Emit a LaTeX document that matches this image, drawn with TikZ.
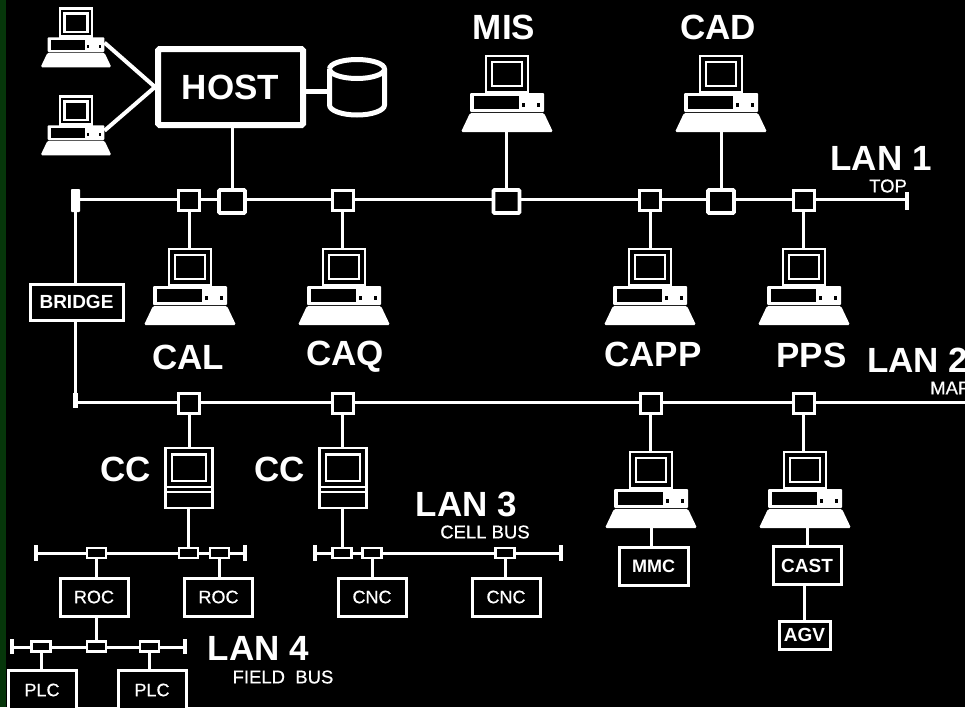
\documentclass[tikz,border=0pt]{standalone}
\usepackage{fontspec}
\setmainfont{Liberation Sans}
\newfontfamily\semib[FakeBold=0.6]{Liberation Sans}
\definecolor{stripgreen}{RGB}{6,54,10}
\begin{document}
\begin{tikzpicture}[x=1pt,y=-1pt,line join=miter,
  wire/.style={draw=white,line width=3pt},
  endtick/.style={draw=white,line width=3.4pt},
  taps/.style={draw=white,fill=black,line width=3pt,inner sep=0pt,minimum width=21pt,minimum height=20pt},
  tapb/.style={draw=white,fill=black,line width=3.6pt,inner sep=0pt,minimum width=26pt,minimum height=23pt,rounded corners=1pt},
  tapf/.style={draw=white,fill=black,line width=2.6pt,inner sep=0pt,minimum width=19pt,minimum height=10pt},
  unit/.style={draw=white,fill=black,line width=3pt,inner sep=0pt,text=white,minimum width=68pt,minimum height=38pt,font=\semib\fontsize{18}{18}\selectfont},
  unitb/.style={unit,font=\bfseries\fontsize{19}{19}\selectfont},
  big/.style={text=white,font=\bfseries\fontsize{35}{35}\selectfont,inner sep=0pt},
  sub/.style={text=white,font=\semib\fontsize{18.5}{18.5}\selectfont,inner sep=0pt},
  computer/.pic={
    \coordinate (top) at (0,0);
    \coordinate (bot) at (0,77);
    \coordinate (rgt) at (37,45);
    \draw[white,line width=2.6pt] (-21,1) rectangle (21,37);
    \draw[white,line width=2.6pt] (-15,7) rectangle (15,31);
    \fill[white,rounded corners=1pt] (-37,38) rectangle (37,57);
    \fill[black] (-33,41) rectangle (12,54);
    \fill[black] (14.5,47.5) rectangle (17.5,52);
    \fill[black] (29.5,47.5) rectangle (32.5,52);
    \fill[white,rounded corners=1.5pt] (-37,58) -- (37,58) -- (46,77) -- (-46,77) -- cycle;
  },
  controller/.pic={
    \coordinate (top) at (0,0);
    \coordinate (bot) at (0,61);
    \draw[white,line width=2.6pt] (-23.5,0) rectangle (23.5,60);
    \draw[white,line width=2.6pt] (-17,6.5) rectangle (17,33);
    \draw[white,line width=2.6pt] (-23.5,39) -- (23.5,39);
    \draw[white,line width=2.6pt] (-23.5,44) -- (23.5,44);
  }]
\useasboundingbox[clip] (0,0) rectangle (965,707);
\fill[black] (0,0) rectangle (965,707);
\fill[stripgreen] (0,0) rectangle (6,707);

% --- computers
\pic (pa-) [scale=.77] at (76,8) {computer};
\pic (pb-) [scale=.77] at (76,96) {computer};
\pic (mis-) at (507,55) {computer};
\pic (cad-) at (721,55) {computer};
\pic (cal-) at (190,248) {computer};
\pic (caq-) at (344,248) {computer};
\pic (capp-) at (650,248) {computer};
\pic (pps-) at (804,248) {computer};
\pic (mmcpc-) at (651,451) {computer};
\pic (castpc-) at (805,451) {computer};
\pic (cca-) at (189,448) {controller};
\pic (ccb-) at (343,448) {controller};

% --- host and disk
\node[draw=white,fill=black,line width=6pt,rounded corners=1.5pt,minimum width=145pt,minimum height=76pt,inner sep=0pt,text=white,font=\bfseries\fontsize{35}{35}\selectfont] (host) at (230.5,87) {HOST};
\coordinate (diskl) at (329.5,91);
\draw[white,line width=5pt] (329.5,69) arc[start angle=180,end angle=540,x radius=27.5,y radius=9.5];
\draw[white,line width=5pt] (329.5,69) -- (329.5,105) arc[start angle=180,end angle=0,x radius=27.5,y radius=10] -- (384.5,69);
\draw[white,line width=5pt] (host.east |- diskl) -- (diskl);
\draw[white,line width=4pt] (pa-rgt) -- (host.west);
\draw[white,line width=4pt] (pb-rgt) -- (host.west);

% --- LAN 1
\coordinate (l1a) at (75,199);
\coordinate (l1b) at (907,199);
\draw[wire] (l1a) -- (l1b);
\fill[white,rounded corners=.8pt] (71,189) rectangle (80,212);
\draw[endtick] (907,192) -- (907,210);
\node[taps] (s1) at (189,200.5) {};
\node[tapb] (b1) at (232,201.5) {};
\node[taps] (s2) at (342.5,200.5) {};
\node[tapb] (b2) at (506.5,201.5) {};
\node[taps] (s3) at (650,200.5) {};
\node[tapb] (b3) at (721,201.5) {};
\node[taps] (s4) at (803.5,200.5) {};
\draw[wire] (host.south -| b1) -- (b1.north);
\draw[wire] (b2.north) -- (b2.north |- mis-bot);
\draw[wire] (b3.north) -- (cad-bot);
\draw[wire] (s1.south) -- (s1.south |- cal-top);
\draw[wire] (s2.south) -- (s2.south |- caq-top);
\draw[wire] (s3.south) -- (s3.south |- capp-top);
\draw[wire] (s4.south) -- (s4.south |- pps-top);

% --- bridge
\node[unitb,minimum width=93pt,minimum height=36pt] (bridge) at (76.5,302) {BRIDGE};
\draw[wire] (bridge.north -| l1a) -- (l1a);

% --- LAN 2
\coordinate (l2a) at (75,402);
\coordinate (l2b) at (966,402);
\draw[wire] (l2a) -- (l2b);
\draw[wire] (bridge.south -| l2a) -- (l2a);
\fill[white] (73,393) rectangle (78,408);
\node[taps] (t1) at (189,403) {};
\node[taps] (t2) at (342.5,403) {};
\node[taps] (t3) at (650.5,403) {};
\node[taps] (t4) at (803.5,403) {};
\draw[wire] (t1.south) -- (t1.south |- cca-top);
\draw[wire] (t2.south) -- (t2.south |- ccb-top);
\draw[wire] (t3.south) -- (t3.south |- mmcpc-top);
\draw[wire] (t4.south) -- (t4.south |- castpc-top);

% --- LAN 3 (two segments)
\coordinate (f1a) at (36,553);
\coordinate (f1b) at (245,553);
\draw[wire] (f1a) -- (f1b);
\draw[endtick] (36,545) -- (36,561);
\draw[endtick] (245,545) -- (245,561);
\coordinate (f2a) at (315,553);
\coordinate (f2b) at (561,553);
\draw[wire] (f2a) -- (f2b);
\draw[endtick] (315,545) -- (315,561);
\draw[endtick] (561,545) -- (561,561);
\node[tapf] (r1) at (96.5,553) {};
\node[tapf] (r2) at (188.5,553) {};
\node[tapf] (r3) at (219.5,553) {};
\node[tapf] (r4) at (342,553) {};
\node[tapf] (r5) at (372,553) {};
\node[tapf] (r6) at (505,553) {};
\draw[wire] (cca-bot -| r2) -- (r2.north);
\draw[wire] (ccb-bot -| r4) -- (r4.north);
\node[unit] (roca) at (94,597) {ROC};
\node[unit] (rocb) at (218.5,597) {ROC};
\node[unit] (cnca) at (372,597) {CNC};
\node[unit] (cncb) at (506,597) {CNC};
\draw[wire] (r1.south) -- (r1.south |- roca.north);
\draw[wire] (r3.south) -- (r3.south |- rocb.north);
\draw[wire] (r5.south) -- (r5.south |- cnca.north);
\draw[wire] (r6.south) -- (r6.south |- cncb.north);

% --- LAN 4
\coordinate (g1a) at (12,647);
\coordinate (g1b) at (185,647);
\draw[wire] (g1a) -- (g1b);
\draw[endtick] (12,639) -- (12,654);
\draw[endtick] (185,639) -- (185,654);
\node[tapf] (q1) at (41,646.5) {};
\node[tapf] (q2) at (96.5,646.5) {};
\node[tapf] (q3) at (149.5,646.5) {};
\draw[wire] (roca.south -| q2) -- (q2.north);
\node[unit,minimum height=44pt] (plca) at (42,692) {};
\node[unit,minimum height=44pt] (plcb) at (152,692) {};
\node[text=white,inner sep=0pt,font=\semib\fontsize{18}{18}\selectfont] (plcat) at (42,690) {PLC};
\node[text=white,inner sep=0pt,font=\semib\fontsize{18}{18}\selectfont] (plcbt) at (152,690) {PLC};
\draw[wire] (q1.south) -- (q1.south |- plca.north);
\draw[wire] (q3.south) -- (q3.south |- plcb.north);

% --- lower units
\node[unitb,minimum width=69pt,font=\bfseries\fontsize{18}{18}\selectfont] (mmc) at (653.5,566) {MMC};
\node[unitb,minimum width=68pt] (cast) at (807,565.5) {CAST};
\node[unitb,minimum width=51pt,minimum height=28pt] (agv) at (804.5,635) {AGV};
\draw[wire] (mmcpc-bot) -- (mmcpc-bot |- mmc.north);
\draw[wire] (castpc-bot -| cast) -- (cast.north);
\draw[wire] (cast.south -| agv) -- (agv.north);

% --- labels
\node[big] (tmis) at (504,27) {MIS};
\node[big] (tcad) at (718,27) {CAD};
\node[big] (tlan1) at (881,158) {LAN 1};
\node[sub] (ttop) at (888,186) {TOP};
\node[big] (tcal) at (188,357) {CAL};
\node[big] (tcaq) at (345,357) {CAQ};
\node[big] (tcapp) at (653,354) {CAPP};
\node[big] (tpps) at (811.5,355) {PPS};
\node[big,anchor=west] (tlan2) at (867,360) {LAN 2};
\node[sub,anchor=west] (tmap) at (930,388) {MAP};
\node[big] (tcca) at (126,469) {CC};
\node[big] (tccb) at (280,469) {CC};
\node[big] (tlan3) at (466.5,504) {LAN 3};
\node[sub] (tcell) at (485,532) {CELL BUS};
\node[big] (tlan4) at (258.5,648) {LAN 4};
\node[sub] (tfield) at (283,677) {FIELD\ \ BUS};
\end{tikzpicture}
\end{document}
